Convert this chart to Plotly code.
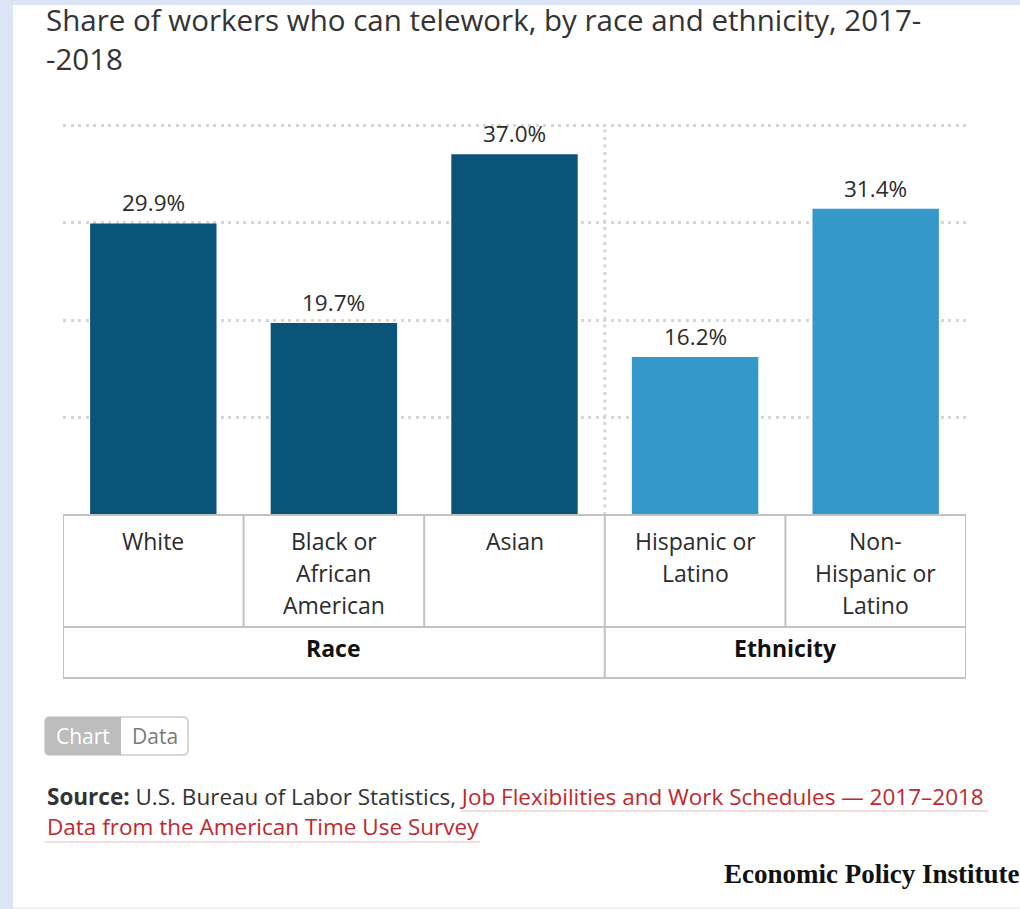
import plotly.graph_objects as go

# Share of workers who can telework, 2017-2018 (percent)
categories = ["White", "Black or African American", "Asian",
              "Hispanic or Latino", "Non-Hispanic or Latino"]
label_lines = [["White"], ["Black or", "African", "American"], ["Asian"],
               ["Hispanic or", "Latino"], ["Non-", "Hispanic or", "Latino"]]
shares = [29.9, 19.7, 37.0, 16.2, 31.4]
groups = ["Race", "Race", "Race", "Ethnicity", "Ethnicity"]
group_names = ["Race", "Ethnicity"]
y_ticks = [0, 10, 20, 30, 40]
y_max = 41
title_lines = ["Share of workers who can telework, by race and ethnicity, 2017-",
               "-2018"]

W, H = 1020, 909
DARK = "#0a5479"
LIGHT = "#3598ca"
TEXT = "#2b2b2b"
GRID = "#d6d6d6"
RULE = "#c2c2c2"
LINK = "#c1272d"
FONT = "Open Sans, Lato, sans-serif"


def px(x):
    return x / W


def py(y):
    return 1 - y / H


colors = [DARK if g == "Race" else LIGHT for g in groups]

fig = go.Figure()
fig.add_trace(go.Bar(
    x=categories, y=shares, width=0.7,
    marker=dict(color=colors, line=dict(width=0)),
    hoverinfo="skip", showlegend=False,
))

shapes = []
annotations = []

# white page on the light-blue frame
shapes.append(dict(type="rect", xref="paper", yref="paper", layer="below",
                   x0=px(13), x1=1.01, y0=py(H + 5), y1=py(5),
                   fillcolor="white", line=dict(width=0)))
shapes.append(dict(type="line", xref="paper", yref="paper", layer="below",
                   x0=px(13), x1=1, y0=py(908), y1=py(908),
                   line=dict(color="#e6e6e6", width=1)))

# dotted separator between the race and ethnicity groups
shapes.append(dict(type="line", xref="x", yref="y", layer="below",
                   x0=2.5, x1=2.5, y0=0, y1=max(y_ticks),
                   line=dict(color=GRID, width=3, dash="3px,4.5px")))

# category table beneath the bars
t_top, t_mid, t_bot = 515, 627, 678
y_unit = (t_top - 125) / max(y_ticks)
shapes.append(dict(type="rect", xref="x", yref="paper",
                   x0=-0.5, x1=len(categories) - 0.5,
                   y0=py(t_bot), y1=py(t_top),
                   line=dict(color=RULE, width=2)))
shapes.append(dict(type="line", xref="x", yref="paper",
                   x0=-0.5, x1=len(categories) - 0.5,
                   y0=py(t_mid), y1=py(t_mid),
                   line=dict(color=RULE, width=2)))
for i in range(len(categories) - 1):
    boundary_between_groups = groups[i] != groups[i + 1]
    shapes.append(dict(type="line", xref="x", yref="paper",
                       x0=i + 0.5, x1=i + 0.5,
                       y0=py(t_bot if boundary_between_groups else t_mid),
                       y1=py(t_top),
                       line=dict(color=RULE, width=2)))

# category labels, one annotation per line
for i, lines in enumerate(label_lines):
    for k, line in enumerate(lines):
        annotations.append(dict(x=i, xref="x", y=py(541 + 32 * k), yref="paper",
                                text=line, showarrow=False,
                                xanchor="center", yanchor="middle",
                                font=dict(family=FONT, size=23, color=TEXT)))

# group labels
for g in group_names:
    idx = [i for i, gg in enumerate(groups) if gg == g]
    annotations.append(dict(x=(idx[0] + idx[-1]) / 2, xref="x",
                            y=py(648), yref="paper", text=f"<b>{g}</b>",
                            showarrow=False, xanchor="center", yanchor="middle",
                            font=dict(family=FONT, size=23, color="#111111")))

# value labels above bars
for c, v in zip(categories, shares):
    annotations.append(dict(x=c, y=v, xref="x", yref="y", text=f"{v:.1f}%",
                            showarrow=False, xanchor="center", yanchor="bottom",
                            yshift=3,
                            font=dict(family=FONT, size=22.5, color=TEXT)))

# title, two lines
for k, line in enumerate(title_lines):
    annotations.append(dict(x=px(44), y=py(20 + 38.5 * k), xref="paper", yref="paper",
                            xanchor="left", yanchor="middle", align="left",
                            text=line, showarrow=False,
                            font=dict(family=FONT, size=29.5, color="#333333")))

# Chart / Data toggle
bx0, bxm, bx1, by0, by1, r = 45, 121, 188, 717, 755, 5


def rpath(x0, x1, y0, y1, rl, rr):
    X = lambda v: px(v)
    Y = lambda v: py(v)
    return (f"M {X(x0 + rl)} {Y(y0)} L {X(x1 - rr)} {Y(y0)} "
            f"Q {X(x1)} {Y(y0)} {X(x1)} {Y(y0 + rr)} L {X(x1)} {Y(y1 - rr)} "
            f"Q {X(x1)} {Y(y1)} {X(x1 - rr)} {Y(y1)} L {X(x0 + rl)} {Y(y1)} "
            f"Q {X(x0)} {Y(y1)} {X(x0)} {Y(y1 - rl)} L {X(x0)} {Y(y0 + rl)} "
            f"Q {X(x0)} {Y(y0)} {X(x0 + rl)} {Y(y0)} Z")


shapes.append(dict(type="path", xref="paper", yref="paper",
                   path=rpath(bx0, bx1, by0, by1, r, r),
                   fillcolor="white", line=dict(color="#cccccc", width=1.5)))
shapes.append(dict(type="path", xref="paper", yref="paper",
                   path=rpath(bx0, bxm, by0, by1, r, 0),
                   fillcolor="#bdbdbd", line=dict(width=0)))
annotations.append(dict(x=px((bx0 + bxm) / 2), y=py((by0 + by1) / 2),
                        xref="paper", yref="paper", text="Chart", showarrow=False,
                        xanchor="center", yanchor="middle",
                        font=dict(family=FONT, size=21, color="white")))
annotations.append(dict(x=px((bxm + bx1) / 2), y=py((by0 + by1) / 2),
                        xref="paper", yref="paper", text="Data", showarrow=False,
                        xanchor="center", yanchor="middle",
                        font=dict(family=FONT, size=21, color="#7a7a7a")))

# source note
annotations.append(dict(x=px(45), y=py(796), xref="paper", yref="paper",
                        xanchor="left", yanchor="middle", showarrow=False,
                        text=("<b>Source:</b> U.S. Bureau of Labor Statistics, "
                              f"<span style='color:{LINK}'>Job Flexibilities and Work "
                              "Schedules — 2017–2018</span>"),
                        font=dict(family=FONT, size=22.5, color="#333333")))
annotations.append(dict(x=px(45), y=py(826), xref="paper", yref="paper",
                        xanchor="left", yanchor="middle", showarrow=False,
                        text="Data from the American Time Use Survey",
                        font=dict(family=FONT, size=22.5, color=LINK)))
shapes.append(dict(type="line", xref="paper", yref="paper",
                   x0=px(461), x1=px(988), y0=py(811), y1=py(811),
                   line=dict(color="#f0d4d5", width=1.5)))
shapes.append(dict(type="line", xref="paper", yref="paper",
                   x0=px(45), x1=px(480), y0=py(842), y1=py(842),
                   line=dict(color="#f0d4d5", width=1.5)))

# publisher mark
annotations.append(dict(x=px(722), y=py(874), xref="paper", yref="paper",
                        xanchor="left", yanchor="middle", showarrow=False,
                        text="<b>Economic Policy Institute</b>",
                        font=dict(family="Liberation Serif, DejaVu Serif, serif",
                                  size=27, color="#111111")))

fig.update_layout(
    width=W, height=H,
    margin=dict(l=0, r=0, t=0, b=0),
    paper_bgcolor="#dce5f5",
    plot_bgcolor="rgba(0,0,0,0)",
    bargap=0.3,
    xaxis=dict(domain=[px(63), px(966)], range=[-0.5, len(categories) - 0.5],
               showticklabels=False, showgrid=False, zeroline=False,
               showline=False, fixedrange=True),
    yaxis=dict(domain=[py(t_top), py(t_top - y_max * y_unit)], range=[0, y_max],
               tickvals=y_ticks, showticklabels=False,
               showgrid=True, gridcolor=GRID, gridwidth=3,
               griddash="3px,4.5px", zeroline=False, showline=False,
               fixedrange=True),
    shapes=shapes,
    annotations=annotations,
)

fig.write_html("out.html")
